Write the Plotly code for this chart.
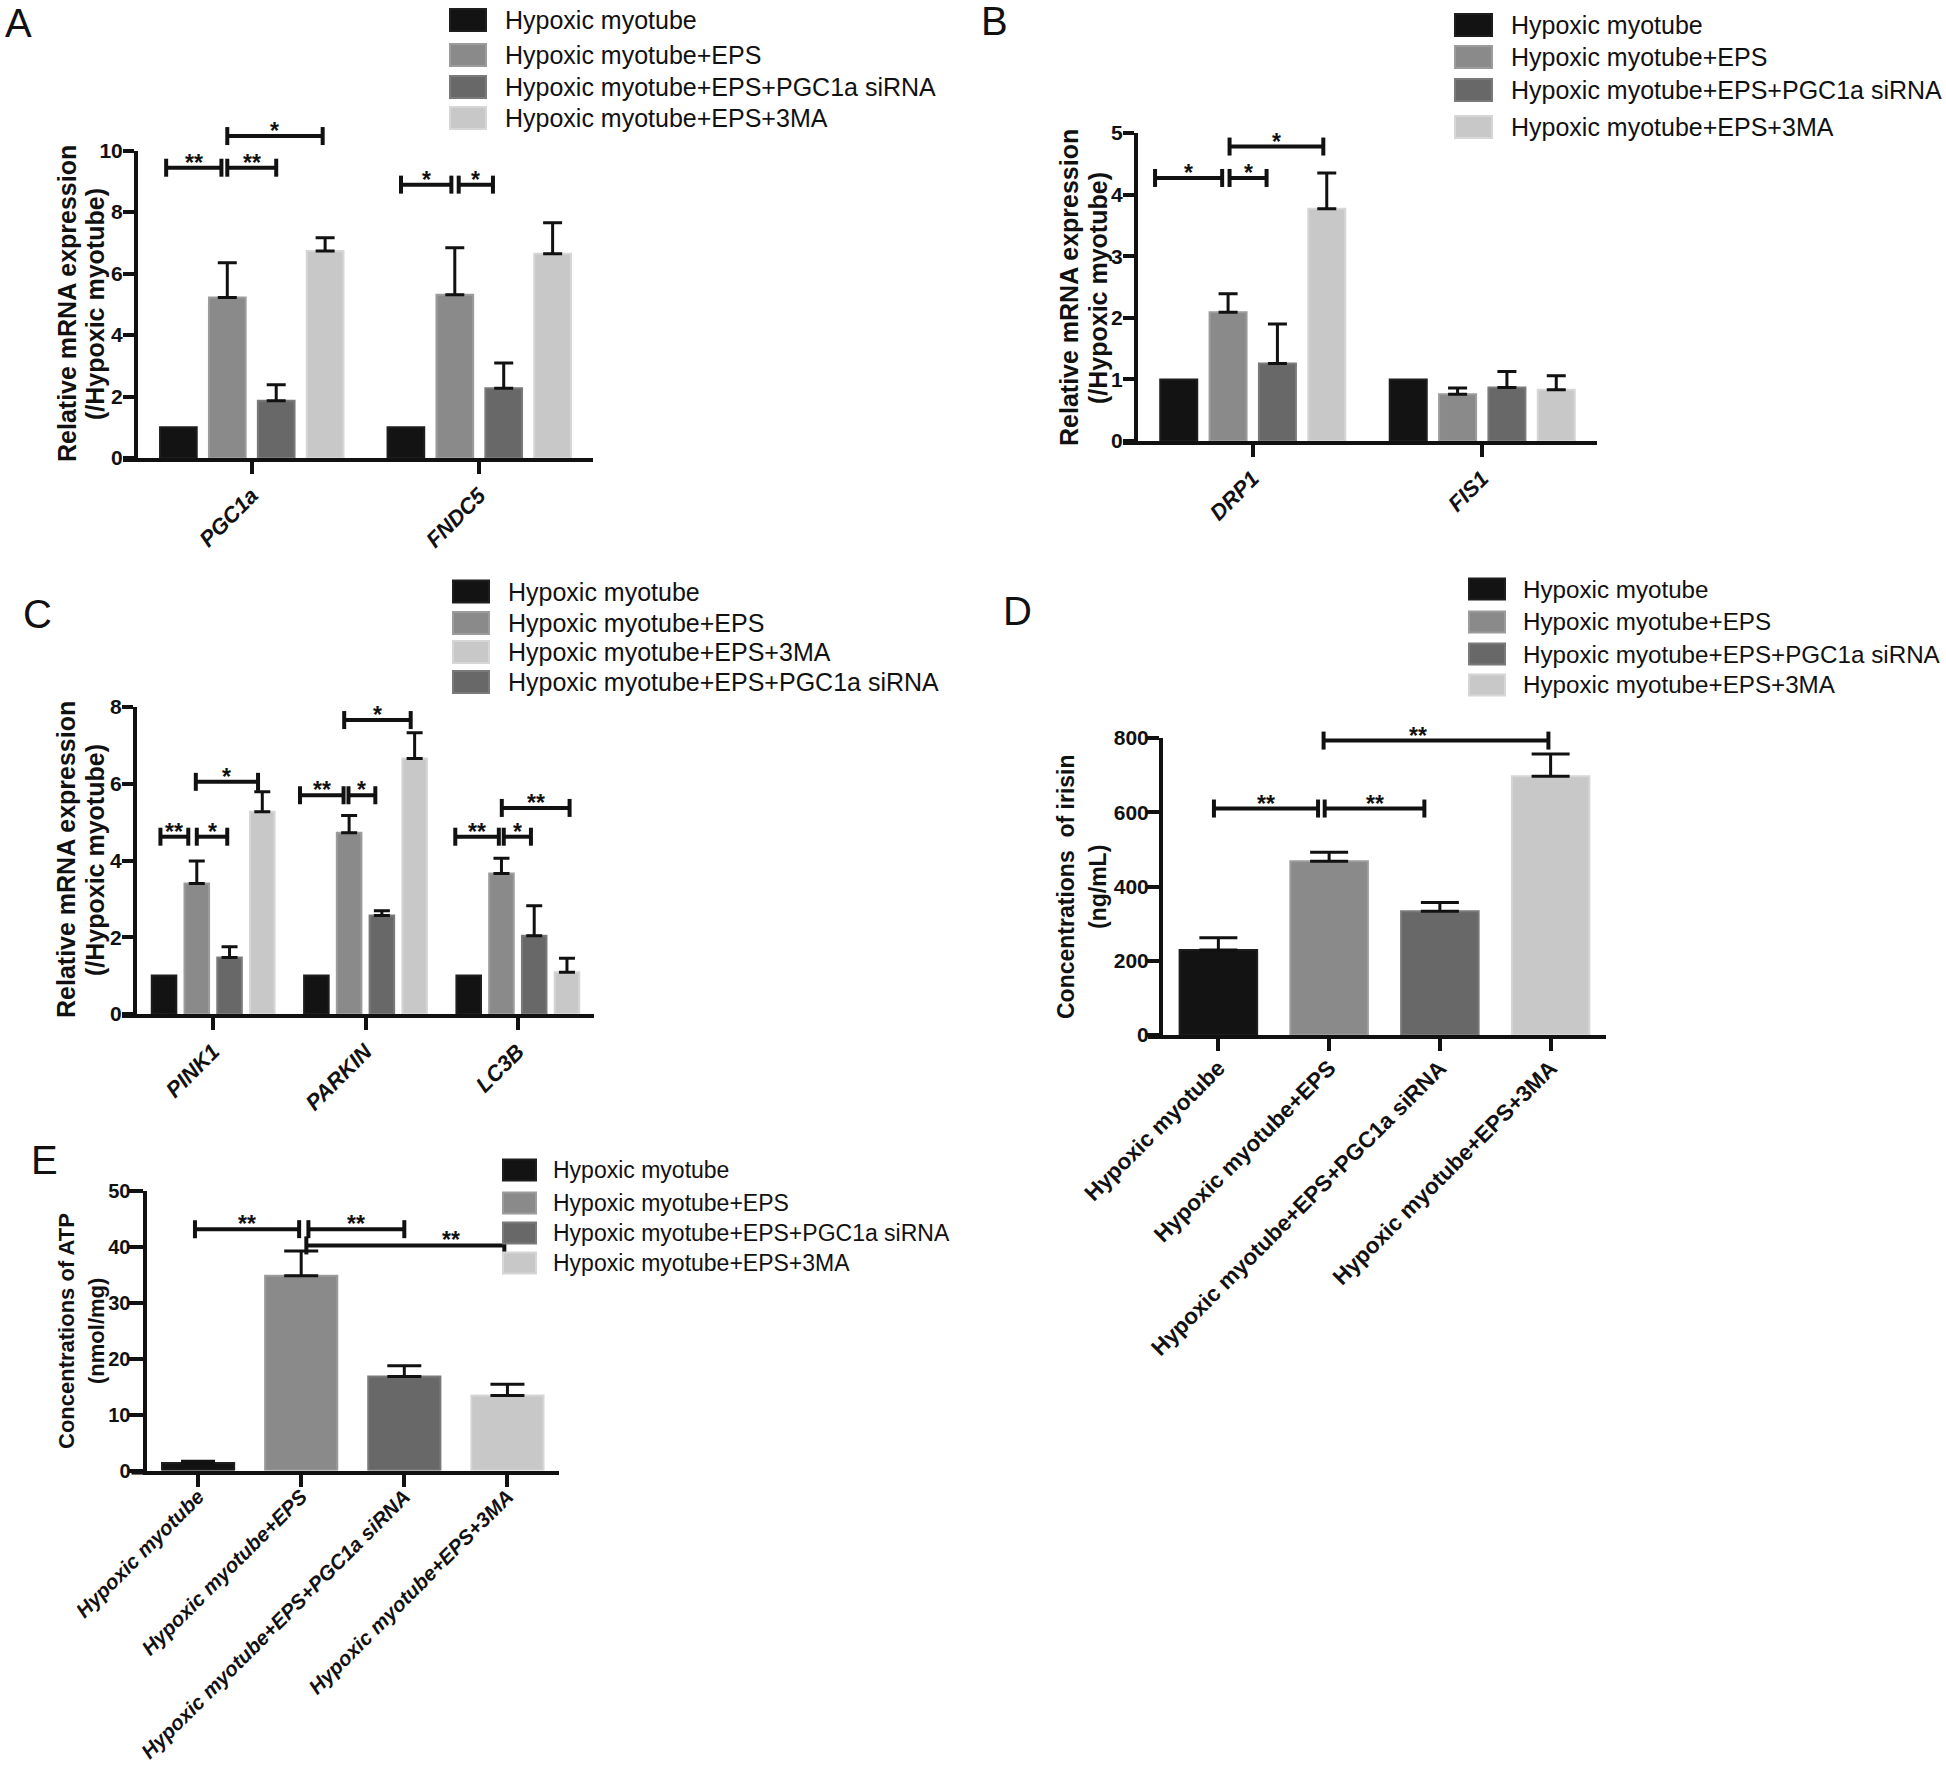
import plotly.graph_objects as go

W, H = 1946, 1769
FONT = "Liberation Sans, Arial, Helvetica, sans-serif"
INK = "#111111"

# ---------------- data ----------------
group_names = ["Hypoxic myotube", "Hypoxic myotube+EPS",
               "Hypoxic myotube+EPS+PGC1a siRNA", "Hypoxic myotube+EPS+3MA"]

# Panel A
genes_A = ["PGC1a", "FNDC5"]
A_hypoxic = [1.0, 1.0]
A_eps = [5.22, 5.31]
A_eps_sd = [1.13, 1.53]
A_sirna = [1.86, 2.27]
A_sirna_sd = [0.52, 0.82]
A_3ma = [6.73, 6.64]
A_3ma_sd = [0.43, 1.01]

# Panel B
genes_B = ["DRP1", "FIS1"]
B_hypoxic = [1.0, 1.0]
B_eps = [2.09, 0.76]
B_eps_sd = [0.30, 0.10]
B_sirna = [1.26, 0.87]
B_sirna_sd = [0.64, 0.26]
B_3ma = [3.77, 0.83]
B_3ma_sd = [0.58, 0.23]

# Panel C
genes_C = ["PINK1", "PARKIN", "LC3B"]
C_hypoxic = [1.0, 1.0, 1.0]
C_eps = [3.40, 4.72, 3.66]
C_eps_sd = [0.59, 0.45, 0.40]
C_sirna = [1.47, 2.57, 2.04]
C_sirna_sd = [0.28, 0.12, 0.78]
C_3ma = [5.27, 6.66, 1.09]
C_3ma_sd = [0.52, 0.67, 0.36]

# Panel D (irisin, ng/mL)
D_irisin = [229, 468, 333, 697]
D_irisin_sd = [33, 24, 24, 60]

# Panel E (ATP, nmol/mg)
E_atp = [1.35, 34.8, 16.8, 13.4]
E_atp_sd = [0.30, 4.4, 1.9, 2.0]

# significance brackets: (group, from bar, to bar, level, label)
A_sig = [(0, -0.25, 0.88, 9.44, "**"), (0, 1.0, 2.0, 9.44, "**"), (0, 1.0, 2.95, 10.47, "*"),
         (1, -0.10, 0.93, 8.89, "*"), (1, 1.08, 1.78, 8.89, "*")]
B_sig = [(0, -0.48, 0.88, 4.27, "*"), (0, 1.03, 1.78, 4.27, "*"), (0, 1.03, 2.93, 4.78, "*")]
C_sig = [(0, -0.11, 0.74, 4.62, "**"), (0, 1.0, 1.93, 4.62, "*"), (0, 0.97, 2.87, 6.05, "*"),
         (1, -0.50, 0.83, 5.70, "**"), (1, 0.98, 1.80, 5.70, "*"), (1, 0.85, 2.88, 7.66, "*"),
         (2, -0.41, 0.92, 4.62, "**"), (2, 1.07, 1.90, 4.62, "*"), (2, 1.01, 3.08, 5.37, "**")]
# (from category, to category, level, label, label position)
D_sig = [(-0.04, 0.90, 610, "**", None), (0.96, 1.86, 610, "**", None), (0.95, 2.98, 793, "**", 1.80)]
E_sig = [(-0.03, 0.98, 43.1, "**", None), (1.07, 2.00, 43.1, "**", None), (1.05, 2.97, 40.2, "**", 2.45)]

# ---------------- styles ----------------
FILL = ["#131313", "#8a8a8a", "#686868", "#c8c8c8"]
EDGE = ["#1e1e1e", "#9c9c9c", "#7a7a7a", "#d6d6d6"]
BARGAP = 0.14
PITCH = (1 - BARGAP) / 4

fig = go.Figure()
shapes = []
annotations = []


def dom_x(a, b):
    return [a / W, b / W]


def dom_y(top, bottom):
    return [1 - bottom / H, 1 - top / H]


def px(x):
    return x / W


def py(y):
    return 1 - y / H


def axis_pair(n, xpx, ypx, yrange, dtick, xfont, yfont_size, yticklen=11, ystand=-4, xstand=0):
    sfx = "" if n == 1 else str(n)
    xa = dict(domain=dom_x(*xpx), type="category", anchor="y" + sfx, automargin=False,
              showline=True, linewidth=4, linecolor=INK, ticks="outside", ticklen=12,
              tickwidth=3.5, tickcolor=INK, tickangle=-45, tickfont=xfont,
              ticklabelstandoff=xstand,
              showgrid=False, zeroline=False, fixedrange=True)
    ya = dict(domain=dom_y(*ypx), range=list(yrange), dtick=dtick, tick0=0, anchor="x" + sfx,
              automargin=False,
              showline=True, linewidth=4, linecolor=INK, ticks="outside", ticklen=yticklen,
              tickwidth=3.5, tickcolor=INK, ticklabelstandoff=ystand,
              tickfont=dict(family=FONT, size=yfont_size, color=INK, weight="bold"),
              showgrid=False, zeroline=False, fixedrange=True)
    # the x-axis baseline runs on a little to the left of the y-axis, as in the original
    shapes.append(dict(type="line", xref="paper", yref="paper",
                       x0=px(xpx[0] - 15), x1=px(xpx[0]), y0=py(ypx[1] + 2), y1=py(ypx[1] + 2),
                       line=dict(color=INK, width=4)))
    return xa, ya


def grouped_bars(cats, series, sds, xa, ya, cap):
    for i in range(4):
        if sds[i] is None:
            eb = dict(visible=False)
        else:
            eb = dict(type="data", symmetric=False, array=sds[i], arrayminus=[0] * len(cats),
                      color=INK, thickness=3, width=cap)
        fig.add_trace(go.Bar(x=cats, y=series[i], name=group_names[i],
                             marker=dict(color=FILL[i], line=dict(color=EDGE[i], width=2)),
                             error_y=eb, xaxis=xa, yaxis=ya, showlegend=False))


def bracket(xa, ya, yrange, ylen, x0, x1, level, label, lx=None, fs=23):
    yd = (level - yrange[0]) / (yrange[1] - yrange[0])
    h = 9.0 / ylen
    yref = ya + " domain"
    line = dict(color=INK, width=4)
    shapes.append(dict(type="line", xref=xa, yref=yref, x0=x0, x1=x1, y0=yd, y1=yd, line=line))
    for xx in (x0, x1):
        shapes.append(dict(type="line", xref=xa, yref=yref, x0=xx, x1=xx, y0=yd - h, y1=yd + h, line=line))
    annotations.append(dict(x=(x0 + x1) / 2 if lx is None else lx, y=yd, xref=xa, yref=yref,
                            text=label, showarrow=False,
                            xanchor="center", yanchor="bottom", yshift=-10,
                            font=dict(family=FONT, size=fs, color=INK, weight="bold")))


def legend(sw_x, sw_w, sw_h, txt_x, rows, order, fs):
    for r, gi in zip(rows, order):
        shapes.append(dict(type="rect", xref="paper", yref="paper",
                           x0=px(sw_x), x1=px(sw_x + sw_w), y0=py(r + sw_h / 2), y1=py(r - sw_h / 2),
                           fillcolor=FILL[gi], line=dict(color=EDGE[gi], width=2)))
        annotations.append(dict(x=px(txt_x), y=py(r), xref="paper", yref="paper", text=group_names[gi],
                                showarrow=False, xanchor="left", yanchor="middle",
                                font=dict(family=FONT, size=fs, color=INK)))


def ytitle(lines, xs, cy, fs):
    for text, cx in zip(lines, xs):
        annotations.append(dict(x=px(cx), y=py(cy), xref="paper", yref="paper", text=text,
                                showarrow=False, textangle=-90, xanchor="center", yanchor="middle",
                                font=dict(family=FONT, size=fs, color=INK, weight="bold")))


def letter(cx, cy, t):
    annotations.append(dict(x=px(cx), y=py(cy), xref="paper", yref="paper", text=t, showarrow=False,
                            xanchor="center", yanchor="middle",
                            font=dict(family=FONT, size=40, color=INK)))


gene_font = dict(family=FONT, size=22, color=INK, weight="bold", style="italic")
mrna_title = ["Relative mRNA expression", "(/Hypoxic myotube)"]

# ---------------- Panel A ----------------
A_y = (0, 10)
xa1, ya1 = axis_pair(1, (138, 593), (150.5, 458), A_y, 2, gene_font, 21)
xa1["range"] = [-0.5, len(genes_A) - 0.5]
grouped_bars(genes_A, [A_hypoxic, A_eps, A_sirna, A_3ma], [None, A_eps_sd, A_sirna_sd, A_3ma_sd], "x", "y", 9.5)
for g, b0, b1, lv, lab in A_sig:
    bracket("x", "y", A_y, 307.5, g + (b0 - 1.5) * PITCH, g + (b1 - 1.5) * PITCH, lv, lab)
legend(450, 36, 22, 503, [20, 55, 87, 118], [0, 1, 2, 3], 25)
ytitle(mrna_title, [67, 95], 304, 25)
letter(18, 23, "A")

# ---------------- Panel B ----------------
B_y = (0, 5)
xa2, ya2 = axis_pair(2, (1138, 1597), (133, 441), B_y, 1, gene_font, 21)
xa2["range"] = [-0.5, len(genes_B) - 0.5]
grouped_bars(genes_B, [B_hypoxic, B_eps, B_sirna, B_3ma], [None, B_eps_sd, B_sirna_sd, B_3ma_sd], "x2", "y2", 9.5)
for g, b0, b1, lv, lab in B_sig:
    bracket("x2", "y2", B_y, 308, g + (b0 - 1.5) * PITCH, g + (b1 - 1.5) * PITCH, lv, lab)
legend(1455, 37, 22, 1509, [25, 57, 90, 127], [0, 1, 2, 3], 25)
ytitle(mrna_title, [1069, 1098], 288, 25)
letter(995, 21, "B")

# ---------------- Panel C ----------------
C_y = (0, 8)
xa3, ya3 = axis_pair(3, (137, 594), (707, 1014), C_y, 2, gene_font, 21)
xa3["range"] = [-0.5, len(genes_C) - 0.5]
grouped_bars(genes_C, [C_hypoxic, C_eps, C_sirna, C_3ma], [None, C_eps_sd, C_sirna_sd, C_3ma_sd], "x3", "y3", 8)
for g, b0, b1, lv, lab in C_sig:
    bracket("x3", "y3", C_y, 307, g + (b0 - 1.5) * PITCH, g + (b1 - 1.5) * PITCH, lv, lab)
legend(453, 36, 22, 506, [591.5, 623, 652, 682], [0, 1, 3, 2], 25)
ytitle(mrna_title, [66, 95], 860, 25)
letter(37, 614, "C")

# ---------------- Panel D ----------------
D_y = (0, 800)
xa4, ya4 = axis_pair(4, (1163, 1606), (738, 1035), D_y, 200,
                     dict(family=FONT, size=22.5, color=INK, weight="bold"), 21,
                     yticklen=13, ystand=-7, xstand=-5)
xa4["range"] = [-0.5, 3.5]
fig.add_trace(go.Bar(x=group_names, y=D_irisin, width=0.7,
                     marker=dict(color=FILL, line=dict(color=EDGE, width=2)),
                     error_y=dict(type="data", symmetric=False, array=D_irisin_sd, arrayminus=[0] * 4,
                                  color=INK, thickness=3, width=19),
                     xaxis="x4", yaxis="y4", showlegend=False, name="irisin"))
for b0, b1, lv, lab, lx in D_sig:
    bracket("x4", "y4", D_y, 297, b0, b1, lv, lab, lx)
legend(1469, 36, 21, 1521, [589, 622, 654, 685], [0, 1, 2, 3], 24.2)
ytitle(["Concentrations  of irisin", "(ng/mL)"], [1066, 1098], 887, 23)
letter(1018, 611, "D")

# ---------------- Panel E ----------------
E_y = (0, 50)
xa5, ya5 = axis_pair(5, (146.5, 559), (1190.5, 1470.6), E_y, 10,
                     dict(family=FONT, size=20.5, color=INK, weight="bold", style="italic"), 20,
                     yticklen=14, ystand=-6, xstand=-10)
xa5["range"] = [-0.5, 3.5]
fig.add_trace(go.Bar(x=group_names, y=E_atp, width=0.7,
                     marker=dict(color=FILL, line=dict(color=EDGE, width=2)),
                     error_y=dict(type="data", symmetric=False, array=E_atp_sd, arrayminus=[0] * 4,
                                  color=INK, thickness=3, width=17),
                     xaxis="x5", yaxis="y5", showlegend=False, name="ATP"))
for b0, b1, lv, lab, lx in E_sig:
    bracket("x5", "y5", E_y, 280, b0, b1, lv, lab, lx)
legend(503, 33, 21, 551, [1170, 1203, 1233, 1263], [0, 1, 2, 3], 23)
ytitle(["Concentrations of ATP", "(nmol/mg)"], [66, 96], 1331, 22)
letter(44, 1160, "E")

fig.update_layout(
    template="none",
    width=W, height=H, margin=dict(l=0, r=0, t=0, b=0, pad=0, autoexpand=False),
    paper_bgcolor="white", plot_bgcolor="white",
    barmode="group", bargap=BARGAP, bargroupgap=0.25,
    showlegend=False, font=dict(family=FONT, color=INK),
    xaxis=xa1, yaxis=ya1, xaxis2=xa2, yaxis2=ya2, xaxis3=xa3, yaxis3=ya3,
    xaxis4=xa4, yaxis4=ya4, xaxis5=xa5, yaxis5=ya5,
    shapes=shapes, annotations=annotations,
)

fig.write_html("out.html", config={"displayModeBar": False},
               post_script="document.body.style.margin='0';document.body.style.overflow='hidden';")
